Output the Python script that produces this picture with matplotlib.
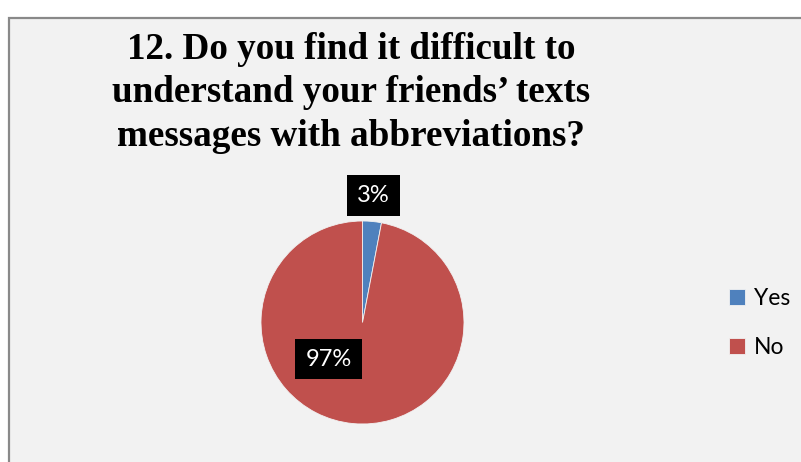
import matplotlib
matplotlib.use("Agg")
import matplotlib.pyplot as plt
from matplotlib.patches import Rectangle
import numpy as np

categories = ["Yes", "No"]
values = [3, 97]
colors = ["#4f81bd", "#c0504d"]
title = "12. Do you find it difficult to\nunderstand your friends\u2019 texts\nmessages with abbreviations?"

W, H = 801, 462
fig = plt.figure(figsize=(W / 100, H / 100), dpi=100)
fig.patch.set_facecolor("white")

# chart frame
fig.patches.append(Rectangle((8.5 / W, -0.05), 1.0, (H - 17.5) / H + 0.05,
                             transform=fig.transFigure, facecolor="#f2f2f2",
                             edgecolor="#898989", linewidth=1.6, zorder=-5))

# pie axes: center (362.5, 322.5) px from top, radius 101.5 px
cx, cy, r = 362.5, 322.5, 101.5
ax = fig.add_axes([(cx - r) / W, (H - cy - r) / H, 2 * r / W, 2 * r / H])
ax.set_zorder(2)
wedges, _ = ax.pie(values, colors=colors, startangle=90, counterclock=False,
                   radius=1, wedgeprops=dict(linewidth=0.6, edgecolor="#f2f2f2"))
ax.set_xlim(-1, 1)
ax.set_ylim(-1, 1)
ax.axis("off")

label_pos = [(0.108, 1.255), (-0.335, -0.36)]
for v, (lx, ly) in zip(values, label_pos):
    ax.text(lx, ly, f"{v}%", ha="center", va="center", fontsize=17,
            family="Lato", color="white", clip_on=False,
            bbox=dict(boxstyle="square,pad=0.42", facecolor="black", edgecolor="none"))

fig.text(351 / W, 1 - 93 / H, title, ha="center", va="center", fontsize=26.7,
         family="Liberation Serif", fontweight="bold", linespacing=1.32)

leg = fig.legend(wedges, categories, loc="center left",
                 bbox_to_anchor=(708 / W, 1 - 323 / H), frameon=False,
                 prop=dict(family="Lato", size=16.5), handlelength=0.7,
                 handleheight=0.7, handletextpad=0.4, labelspacing=1.2)

fig.savefig("out.png", dpi=100, facecolor=fig.get_facecolor())
